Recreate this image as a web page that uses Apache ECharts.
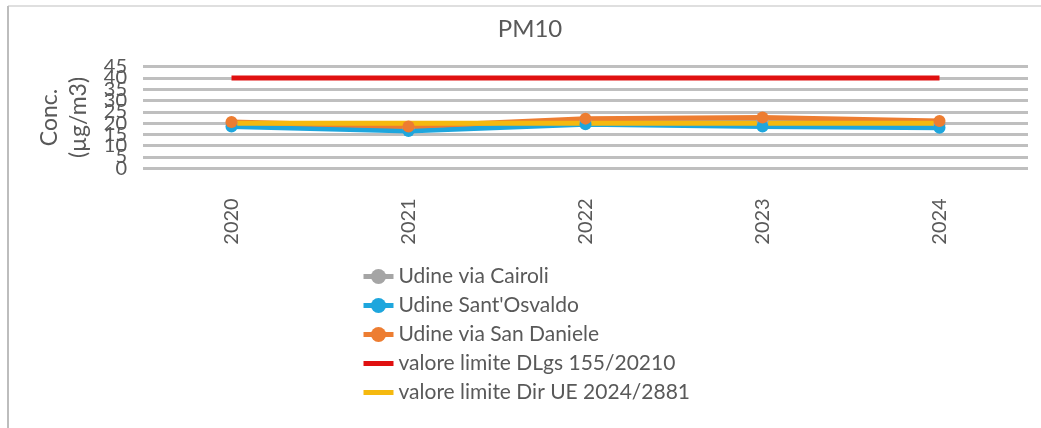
<!DOCTYPE html>
<html>
<head>
<meta charset="utf-8">
<script src="https://cdn.jsdelivr.net/npm/echarts@6/dist/echarts.min.js"></script>
<style>
  html, body { margin: 0; padding: 0; background: #fff; }
  #chart { width: 1041px; height: 428px; }
</style>
</head>
<body>
<div id="chart"></div>
<script>
// PM10 annual means in Udine, with legal limit values
const years = ['2020', '2021', '2022', '2023', '2024'];
const cairoli = [20, 17.5, 21, 21, 19.5];
const santOsvaldo = [18.5, 16.5, 19.5, 18.5, 18];
const sanDaniele = [20.5, 18.5, 22, 22.5, 21];
const limitDLgs = [40, 40, 40, 40, 40];
const limitDirUE = [20, 20, 20, 20, 20];
const yTicks = { min: 0, max: 45, interval: 5 };

const textColor = '#595959';
const fontFamily = 'Lato, "Open Sans", sans-serif';
// thick bar legend icon for the limit lines (invisible moves keep the 30x19 box)
const barIcon = 'path://M0,0M0,7h30v5h-30zM30,19';

const chart = echarts.init(document.getElementById('chart'));

function stationSeries(name, data, color) {
  return {
    name, type: 'line', data,
    symbol: 'circle', symbolSize: 12,
    lineStyle: { color, width: 5 },
    itemStyle: { color },
    emphasis: { disabled: true }
  };
}
function limitSeries(name, data, color) {
  return {
    name, type: 'line', data,
    symbol: 'none', showSymbol: false,
    lineStyle: { color, width: 5 },
    itemStyle: { color },
    emphasis: { disabled: true }
  };
}

// The tick labels crowd each other, so they are split over two stacked
// axes sharing one scale: multiples of 10 on one, the odd fives on the other.
function tickAxis(showTens, extra) {
  return Object.assign({
    type: 'value', position: 'left',
    min: yTicks.min, max: yTicks.max, interval: yTicks.interval,
    axisLine: { show: false }, axisTick: { show: false },
    splitLine: { show: false },
    axisLabel: {
      margin: 16, fontSize: 20, color: textColor, fontFamily,
      showMinLabel: true, showMaxLabel: true,
      formatter: v => ((v % 10 === 0) === showTens ? String(v) : '')
    }
  }, extra);
}

chart.setOption({
  animation: false,
  textStyle: { fontFamily },
  title: {
    text: 'PM10', left: 525, top: 12, textAlign: 'center',
    textStyle: { fontSize: 24, fontWeight: 'normal', color: textColor, fontFamily }
  },
  graphic: [
    { type: 'line', shape: { x1: 8, y1: 6, x2: 1041, y2: 6 }, style: { stroke: '#d4d4d4', lineWidth: 1.5 } },
    { type: 'line', shape: { x1: 8, y1: 6, x2: 8, y2: 428 }, style: { stroke: '#bdbdbd', lineWidth: 2 } }
  ],
  grid: { left: 143, right: 13, top: 66.7, bottom: 259.7 },
  xAxis: {
    type: 'category', data: years, boundaryGap: true,
    axisLine: { show: false }, axisTick: { show: false },
    axisLabel: { rotate: 90, margin: 30, fontSize: 20, color: textColor, fontFamily }
  },
  yAxis: [
    tickAxis(true, {
      name: 'Conc.\n(µg/m3)', nameLocation: 'middle', nameRotate: 90, nameGap: 48,
      nameTextStyle: { fontSize: 23, color: textColor, fontFamily, lineHeight: 29 },
      splitLine: { show: true, lineStyle: { color: '#bfbfbf', width: 3 } }
    }),
    tickAxis(false, { offset: 0 })
  ],
  legend: {
    orient: 'vertical', left: 356, top: 261,
    itemWidth: 30, itemHeight: 19, itemGap: 8,
    lineStyle: { width: 5 },
    textStyle: { fontSize: 21, color: textColor, fontFamily },
    data: [
      'Udine via Cairoli', "Udine Sant'Osvaldo", 'Udine via San Daniele',
      { name: 'valore limite DLgs 155/20210', icon: barIcon },
      { name: 'valore limite Dir UE 2024/2881', icon: barIcon }
    ]
  },
  series: [
    stationSeries('Udine via Cairoli', cairoli, '#a5a5a5'),
    stationSeries("Udine Sant'Osvaldo", santOsvaldo, '#1ea6dd'),
    stationSeries('Udine via San Daniele', sanDaniele, '#ed7d31'),
    limitSeries('valore limite DLgs 155/20210', limitDLgs, '#e01010'),
    limitSeries('valore limite Dir UE 2024/2881', limitDirUE, '#f5b90f')
  ]
});
</script>
</body>
</html>
